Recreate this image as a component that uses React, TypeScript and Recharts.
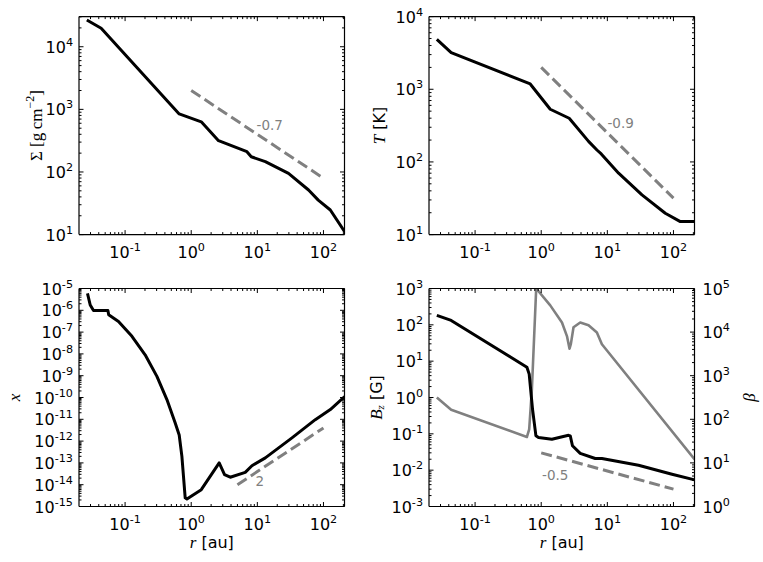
import React from "react";
import { LineChart, Line, XAxis, YAxis, ReferenceDot } from "recharts";

type Pt = [number, number];

// radius range shared by all four panels [au]
const R_DOMAIN: [number, number] = [0.0201, 208];
const R_DECADES = [-2, -1, 0, 1, 2];

const SIGMA_DOMAIN: [number, number] = [10, 30300];
const SIGMA_DECADES = [1, 2, 3, 4];
const T_DOMAIN: [number, number] = [10, 1e4];
const T_DECADES = [1, 2, 3, 4];
const XI_DOMAIN: [number, number] = [1e-15, 1e-5];
const XI_DECADES = [-15, -14, -13, -12, -11, -10, -9, -8, -7, -6, -5];
const BZ_DOMAIN: [number, number] = [1e-3, 1e3];
const BZ_DECADES = [-3, -2, -1, 0, 1, 2, 3];
const BETA_DOMAIN: [number, number] = [1, 1e5];
const BETA_DECADES = [0, 1, 2, 3, 4, 5];

// surface density [g cm^-2]
const sigmaCurve: Pt[] = [
  [0.0264, 26800], [0.0435, 19700], [0.658, 845], [1.42, 633], [2.59, 316],
  [6.96, 211], [8.09, 175], [13.2, 146], [29.6, 95], [59.5, 51.5],
  [83.4, 35.5], [127, 24.7], [209, 11.1],
];
const sigmaFit: Pt[] = [[1, 2000], [100, 79.6]];

// temperature [K]
const tempCurve: Pt[] = [
  [0.0264, 4870], [0.0435, 3185], [0.682, 1183], [1.37, 531], [2.65, 399],
  [5.2, 192], [6.96, 146], [8.09, 129], [14.8, 70], [33.4, 35.2],
  [75.2, 19.7], [127, 15.1], [209, 15.1],
];
const tempFit: Pt[] = [[1, 2000], [100, 31.7]];

// ionisation fraction
const xiCurve: Pt[] = [
  [0.027, 6e-6], [0.0297, 1.75e-6], [0.0333, 9.8e-7], [0.055, 9.8e-7], [0.0565, 6.3e-7],
  [0.0795, 3.1e-7], [0.127, 6.4e-8], [0.201, 9.1e-9], [0.303, 9.3e-10], [0.429, 8e-11],
  [0.573, 6.8e-12], [0.658, 1.9e-12], [0.723, 2e-13], [0.811, 2.5e-15], [0.861, 2.2e-15],
  [1.42, 5.9e-15], [2.65, 1e-13], [3.19, 2.9e-14], [3.89, 2.2e-14], [6.56, 3.7e-14],
  [8.28, 7.4e-14], [13.2, 1.7e-13], [33.4, 1.4e-12], [75.2, 9.6e-12], [127, 2.8e-11],
  [209, 1.1e-10],
];
const xiFit: Pt[] = [[5, 1e-14], [100, 4e-12]];

// vertical field [G]
const bzCurve: Pt[] = [
  [0.0264, 182], [0.0435, 132], [0.608, 6.8], [0.658, 4.4], [0.739, 0.48],
  [0.832, 0.088], [0.911, 0.079], [1.45, 0.071], [2.59, 0.091], [2.75, 0.088],
  [2.97, 0.047], [3.89, 0.029], [6.56, 0.021], [8.28, 0.021], [29.6, 0.0136],
  [95, 0.0077], [209, 0.0054],
];
const bzFit: Pt[] = [[1, 0.03], [100, 0.003]];

// plasma beta (right axis)
const betaCurve: Pt[] = [
  [0.0264, 316], [0.0435, 165], [0.608, 39.3], [0.658, 59], [0.723, 490],
  [0.84, 1e5], [1.37, 41000], [2.06, 16600], [2.45, 8100], [2.68, 4170],
  [2.81, 5370], [3.08, 12900], [3.89, 16600], [5.2, 14400], [6.95, 9800],
  [8.28, 5250], [209, 12],
];

const sigmaNote = { r: 15.4, v: 560, text: "-0.7" };
const tempNote = { r: 15.9, v: 344, text: "-0.9" };
const xiNote = { r: 10.9, v: 1.5e-14, text: "2" };
const bzNote = { r: 1.63, v: 7.5e-3, text: "-0.5" };

const GREY = "#808080";

function logTicks(decades: number[], [lo, hi]: [number, number]) {
  const out: number[] = [];
  for (const e of decades) {
    for (let m = 1; m < 10; m++) {
      const v = m * Math.pow(10, e);
      if (v >= lo * 0.999 && v <= hi * 1.001) out.push(v);
    }
  }
  return out;
}

const toRows = (pts: Pt[]) => pts.map(([r, v]) => ({ r, v }));

function Pow10({ x, y, exp, anchor }: { x: number; y: number; exp: number; anchor: "start" | "middle" | "end" }) {
  return (
    <text x={x} y={y} textAnchor={anchor} fontFamily="DejaVu Sans" fill="#000">
      <tspan fontSize={16}>10</tspan>
      <tspan fontSize={11.2} dy={-7}>{String(exp)}</tspan>
    </text>
  );
}

type Side = "bottom" | "top" | "left" | "right";

function LogTick(props: any) {
  const { x = 0, y = 0, payload, side, labels } = props as { x: number; y: number; payload: { value: number }; side: Side; labels: boolean };
  const e = Math.log10(payload.value);
  const major = Math.abs(e - Math.round(e)) < 1e-6;
  const len = major ? 4.5 : 2.5;
  let x2 = x;
  let y2 = y;
  if (side === "bottom") y2 = y - len;
  if (side === "top") y2 = y + len;
  if (side === "left") x2 = x + len;
  if (side === "right") x2 = x - len;
  let label = null;
  if (labels && major) {
    const exp = Math.round(e);
    if (side === "bottom") label = <Pow10 x={x} y={y + 23} exp={exp} anchor="middle" />;
    if (side === "left") label = <Pow10 x={x - 6} y={y + 6} exp={exp} anchor="end" />;
    if (side === "right") label = <Pow10 x={x + 8} y={y + 6} exp={exp} anchor="start" />;
  }
  return (
    <g>
      <line x1={x} y1={y} x2={x2} y2={y2} stroke="#000" strokeWidth={1} />
      {label}
    </g>
  );
}

const frame = { stroke: "#000", strokeWidth: 1.2 };

interface Rect { left: number; top: number; width: number; height: number }
interface Series { data: Pt[]; color: string; width: number; dash?: string; axis?: "left" | "right" }
interface Note { r: number; v: number; text: string }

interface PanelProps {
  box: Rect;
  plot: Rect;
  yDomain: [number, number];
  yDecades: number[];
  series: Series[];
  note: Note;
  rightDomain?: [number, number];
  rightDecades?: number[];
}

function Panel({ box, plot, yDomain, yDecades, series, note, rightDomain, rightDecades }: PanelProps) {
  const xTicks = logTicks(R_DECADES, R_DOMAIN);
  const yTicks = logTicks(yDecades, yDomain);
  const rDomain = rightDomain ?? yDomain;
  const rTicks = logTicks(rightDecades ?? yDecades, rDomain);
  const leftW = plot.left - box.left;
  const rightW = box.left + box.width - (plot.left + plot.width);
  const topH = plot.top - box.top;
  const bottomH = box.top + box.height - (plot.top + plot.height);

  return (
    <div style={{ position: "absolute", left: box.left, top: box.top }}>
      <LineChart width={box.width} height={box.height} margin={{ top: 0, right: 0, bottom: 0, left: 0 }}>
        <XAxis
          xAxisId="bottom"
          dataKey="r"
          type="number"
          scale="log"
          domain={R_DOMAIN}
          allowDataOverflow
          ticks={xTicks}
          interval={0}
          height={bottomH}
          tickSize={0}
          tickMargin={0}
          tickLine={false}
          axisLine={frame}
          tick={(p: any) => <LogTick {...p} side="bottom" labels />}
        />
        <XAxis
          xAxisId="top"
          orientation="top"
          dataKey="r"
          type="number"
          scale="log"
          domain={R_DOMAIN}
          allowDataOverflow
          ticks={xTicks}
          interval={0}
          height={topH}
          tickSize={0}
          tickMargin={0}
          tickLine={false}
          axisLine={frame}
          tick={(p: any) => <LogTick {...p} side="top" labels={false} />}
        />
        <YAxis
          yAxisId="left"
          dataKey="v"
          type="number"
          scale="log"
          domain={yDomain}
          allowDataOverflow
          ticks={yTicks}
          interval={0}
          width={leftW}
          tickSize={0}
          tickMargin={0}
          tickLine={false}
          axisLine={frame}
          tick={(p: any) => <LogTick {...p} side="left" labels />}
        />
        <YAxis
          yAxisId="right"
          orientation="right"
          dataKey="v"
          type="number"
          scale="log"
          domain={rDomain}
          allowDataOverflow
          ticks={rTicks}
          interval={0}
          width={rightW}
          tickSize={0}
          tickMargin={0}
          tickLine={false}
          axisLine={frame}
          tick={(p: any) => <LogTick {...p} side="right" labels={!!rightDomain} />}
        />
        {series.map((s, i) => (
          <Line
            key={i}
            data={toRows(s.data)}
            dataKey="v"
            xAxisId="bottom"
            yAxisId={s.axis ?? "left"}
            type="linear"
            stroke={s.color}
            strokeWidth={s.width}
            strokeDasharray={s.dash}
            strokeLinejoin="round"
            dot={false}
            activeDot={false}
            isAnimationActive={false}
          />
        ))}
        <ReferenceDot
          x={note.r}
          y={note.v}
          xAxisId="bottom"
          yAxisId="left"
          r={0}
          ifOverflow="visible"
          shape={(p: any) => (
            <text x={p.cx} y={p.cy} textAnchor="middle" dominantBaseline="central" fontFamily="DejaVu Sans" fontSize={13.5} fill={GREY}>
              {note.text}
            </text>
          )}
        />
      </LineChart>
    </div>
  );
}

const SERIF = "Liberation Serif";
const SANS = "DejaVu Sans";

function Titles() {
  const rot = (x: number, y: number) => `translate(${x} ${y}) rotate(-90)`;
  return (
    <svg width={763} height={562} style={{ position: "absolute", left: 0, top: 0, pointerEvents: "none" }}>
      <text transform={rot(36, 125.6)} textAnchor="middle" dominantBaseline="central" fontFamily={SERIF} fontSize={17}>
        Σ [g{"\u2009"}cm<tspan dy={-6} fontSize={12}>−2</tspan>
        <tspan dy={6}>]</tspan>
      </text>
      <text transform={rot(379, 125.6)} textAnchor="middle" dominantBaseline="central" fontSize={16}>
        <tspan fontFamily={SERIF} fontStyle="italic" fontSize={17}>T</tspan>
        <tspan fontFamily={SANS}> [K]</tspan>
      </text>
      <text transform={rot(14, 397.5)} textAnchor="middle" dominantBaseline="central" fontFamily={SERIF} fontStyle="italic" fontSize={17}>
        x
      </text>
      <text transform={rot(376, 397.5)} textAnchor="middle" dominantBaseline="central" fontSize={16}>
        <tspan fontFamily={SERIF} fontStyle="italic" fontSize={17}>B</tspan>
        <tspan fontFamily={SERIF} fontStyle="italic" fontSize={11} dy={4}>z</tspan>
        <tspan fontFamily={SANS} dy={-4}> [G]</tspan>
      </text>
      <text transform={rot(749, 397.5)} textAnchor="middle" dominantBaseline="central" fontFamily={SERIF} fontStyle="italic" fontSize={17}>
        β
      </text>
      {[211.75, 561.75].map((cx) => (
        <text key={cx} x={cx} y={542} textAnchor="middle" dominantBaseline="central" fontSize={16}>
          <tspan fontFamily={SERIF} fontStyle="italic" fontSize={17}>r</tspan>
          <tspan fontFamily={SANS}> [au]</tspan>
        </text>
      ))}
    </svg>
  );
}

export default function App() {
  const solid = (data: Pt[], axis: "left" | "right" = "left"): Series => ({ data, color: "#000", width: 3, axis });
  const fit = (data: Pt[]): Series => ({ data, color: GREY, width: 3, dash: "11 5" });

  return (
    <div style={{ position: "relative", width: 763, height: 562, background: "#fff", fontFamily: SANS }}>
      <style>{"body{margin:0}"}</style>
      <Panel
        box={{ left: 0, top: 0, width: 380, height: 270 }}
        plot={{ left: 79, top: 16.6, width: 265.5, height: 218 }}
        yDomain={SIGMA_DOMAIN}
        yDecades={SIGMA_DECADES}
        series={[fit(sigmaFit), solid(sigmaCurve)]}
        note={sigmaNote}
      />
      <Panel
        box={{ left: 380, top: 0, width: 383, height: 270 }}
        plot={{ left: 429, top: 16.6, width: 265.5, height: 218 }}
        yDomain={T_DOMAIN}
        yDecades={T_DECADES}
        series={[fit(tempFit), solid(tempCurve)]}
        note={tempNote}
      />
      <Panel
        box={{ left: 0, top: 270, width: 380, height: 292 }}
        plot={{ left: 79, top: 288.5, width: 265.5, height: 218 }}
        yDomain={XI_DOMAIN}
        yDecades={XI_DECADES}
        series={[fit(xiFit), solid(xiCurve)]}
        note={xiNote}
      />
      <Panel
        box={{ left: 380, top: 270, width: 383, height: 292 }}
        plot={{ left: 429, top: 288.5, width: 265.5, height: 218 }}
        yDomain={BZ_DOMAIN}
        yDecades={BZ_DECADES}
        rightDomain={BETA_DOMAIN}
        rightDecades={BETA_DECADES}
        series={[
          fit(bzFit),
          { data: betaCurve, color: GREY, width: 2.6, axis: "right" },
          solid(bzCurve),
        ]}
        note={bzNote}
      />
      <Titles />
    </div>
  );
}
